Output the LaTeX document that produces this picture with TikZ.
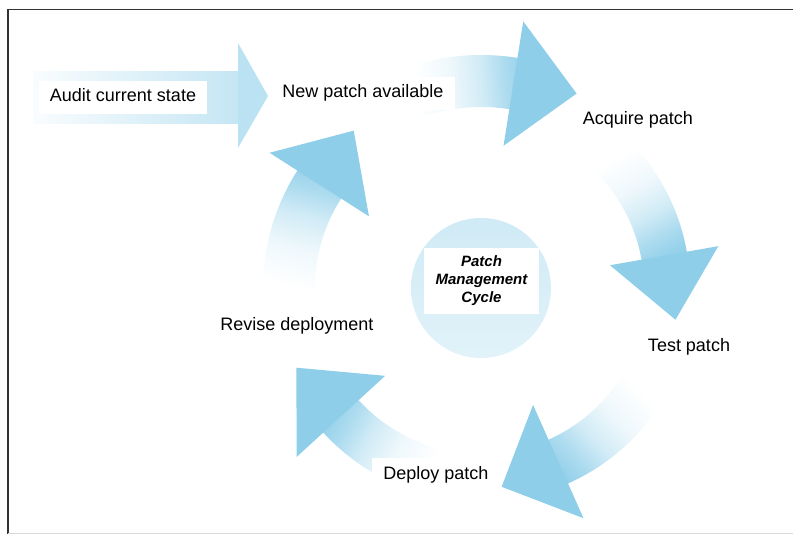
\documentclass[tikz,border=0pt]{standalone}
\usepackage{fontspec}
\setmainfont{Liberation Sans}
\usetikzlibrary{calc}

\definecolor{arrowblue}{RGB}{142,206,233}
\definecolor{framegray}{RGB}{50,50,50}

% fading fill for the curved arrow shafts: white tail, blue near the head
\pgfdeclarehorizontalshading{shaftfade}{100bp}{%
  color(0bp)=(white); color(30bp)=(white); color(45bp)=(arrowblue!14);
  color(58bp)=(arrowblue!40); color(68bp)=(arrowblue!72); color(76bp)=(arrowblue!92);
  color(82bp)=(arrowblue); color(100bp)=(arrowblue)}
% paler fill for the straight entry arrow
\pgfdeclarehorizontalshading{auditfade}{100bp}{%
  color(0bp)=(arrowblue!5); color(25bp)=(arrowblue!5);
  color(75bp)=(arrowblue!52); color(100bp)=(arrowblue!52)}

% curved block arrow around the hub
% #1 radius, #2 tail angle, #3 head-base angle, #4 shaft half width,
% #5 head half width, #6 head length, #7 shading angle
\newcommand\cyclearrow[7]{%
  \shade[shading=shaftfade, shading angle=#7]
    ($(hub)+(#2:{#1+#4})$) arc[start angle=#2, end angle={#3+1.5}, radius={#1+#4}]
    -- ($(hub)+({#3+1.5}:{#1-#4})$) arc[start angle={#3+1.5}, end angle=#2, radius={#1-#4}]
    -- cycle;
  \fill[arrowblue] ($(hub)+(#3:{#1+#5})$)
    -- ($(hub)+(#3:#1)+({#3+90}:#6)$)
    -- ($(hub)+(#3:{#1-#5})$) -- cycle;
}

\begin{document}
\begin{tikzpicture}[x=1pt,y=-1pt,
  lbl/.style={fill=white, font=\fontsize{18}{21}\selectfont,
    text height=13pt, text depth=4pt, inner xsep=11pt, inner ysep=8pt},
  hublbl/.style={fill=white, font=\fontsize{15}{18}\selectfont\bfseries\itshape,
    align=center, minimum width=115pt, minimum height=66pt, inner sep=2pt}]
\useasboundingbox (0,0) rectangle (793,534);

% frame
\draw[line width=1.6pt, framegray] (8,534) -- (8,9.5) -- (793,9.5);
\draw[line width=1pt, black!15] (8,533.5) -- (793,533.5);

\coordinate (hub) at (481,288);

% straight entry arrow
\shade[shading=auditfade] (33,72) rectangle (240,124);
\fill[arrowblue!60] (238,43) -- (268,96) -- (238,148) -- cycle;

% the cycle of curved arrows
\cyclearrow{207}{-110}{-81}{26}{63}{64}{5}
\cyclearrow{186}{-48}{-10}{23}{55}{65}{-61}
\cyclearrow{190}{28}{66}{24}{62}{62}{-137}
\cyclearrow{190}{100}{137.5}{24}{60}{66}{151}
\cyclearrow{192}{175}{212.6}{26}{59}{64}{76}

% hub disc
\shade[top color=arrowblue!42, bottom color=arrowblue!26] (hub) circle[radius=70];

% labels
\node[lbl] (audit) at (123,97.5) {Audit current state};
\node[lbl] (newpatch) at (363,93.5) {New patch available};
\node[lbl] (acquire) at (638,120) {Acquire patch};
\node[lbl] (test) at (689,347) {Test patch};
\node[lbl] (deploy) at (436,475) {Deploy patch};
\node[lbl] (revise) at (297,326) {Revise deployment};
\node[hublbl] (cycle) at (481.5,281) {Patch\\Management\\Cycle};
\end{tikzpicture}
\end{document}
